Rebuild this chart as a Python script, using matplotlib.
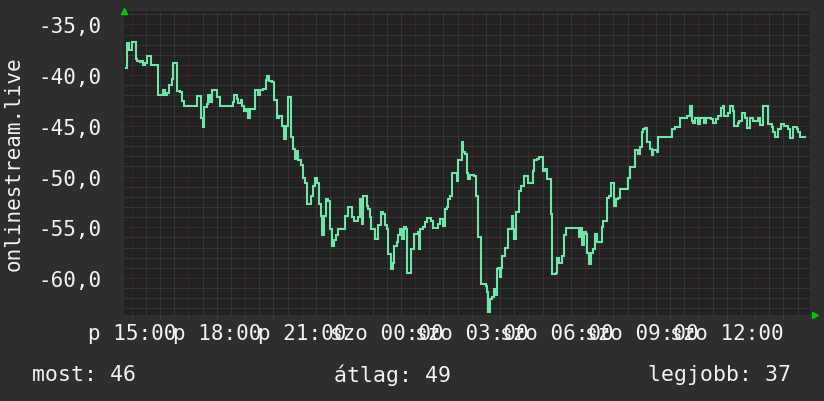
import matplotlib

matplotlib.use("Agg")
import matplotlib.pyplot as plt
import numpy as np
from matplotlib.ticker import FixedLocator, MultipleLocator

# hours after fri 15:00, signal level (step series)
hours = [
    -0.20, -0.18, -0.095, 0.02, 0.15, 0.20, 0.29, 0.35, 0.41, 0.47, 0.55, 0.68,
    0.92, 0.98, 1.09, 1.18, 1.23, 1.33, 1.41, 1.47, 1.61, 1.70, 1.76, 1.85,
    2.32, 2.43, 2.50, 2.56, 2.65, 2.70, 2.76, 2.85, 3.00, 3.12, 3.56, 3.62,
    3.70, 3.76, 3.85, 3.90, 3.98, 4.03, 4.09, 4.17, 4.35, 4.45, 4.53, 4.65,
    4.74, 4.79, 4.86, 4.94, 5.03, 5.12, 5.21, 5.29, 5.38, 5.45, 5.51, 5.62,
    5.71, 5.76, 5.82, 5.88, 5.96, 6.04, 6.12, 6.18, 6.33, 6.41, 6.47, 6.53,
    6.61, 6.68, 6.73, 6.80, 6.85, 6.92, 7.00, 7.06, 7.14, 7.21, 7.27, 7.53,
    7.62, 7.76, 7.85, 8.00, 8.06, 8.12, 8.18, 8.29, 8.35, 8.41, 8.45, 8.59,
    8.71, 8.79, 8.88, 8.94, 9.00, 9.04, 9.15, 9.21, 9.27, 9.35, 9.41, 9.47,
    9.53, 9.62, 9.68, 9.73, 9.85, 9.96, 10.09, 10.14, 10.17, 10.27, 10.35, 10.41,
    10.56, 10.62, 10.82, 10.88, 10.99, 11.04, 11.12, 11.18, 11.24, 11.29, 11.47, 11.53,
    11.65, 11.71, 11.77, 11.82, 11.88, 11.94, 12.09, 12.15, 12.21, 12.33, 12.49, 12.53,
    12.56, 12.65, 12.71, 12.77, 12.82, 12.88, 12.94, 13.00, 13.04, 13.08, 13.18, 13.29,
    13.41, 13.45, 13.50, 13.55, 13.67, 13.73, 13.85, 14.00, 14.15, 14.21, 14.29, 14.38,
    14.53, 14.59, 14.65, 14.79, 14.82, 14.97, 15.02, 15.08, 15.20, 15.25, 15.32, 15.71,
    15.77, 15.86, 15.91, 15.97, 16.04, 16.08, 16.15, 16.21, 16.27, 16.35, 16.41, 16.59,
    16.65, 16.77, 16.86, 16.91, 17.02, 17.08, 17.18, 17.24, 17.53, 17.59, 17.77, 17.88,
    17.94, 18.00, 18.06, 18.12, 18.18, 18.30, 18.35, 18.41, 18.53, 18.59, 19.06, 19.18,
    19.35, 19.59, 19.71, 19.77, 19.82, 19.88, 20.00, 20.06, 20.20, 20.27, 20.44, 20.50,
    20.63, 20.71, 20.79, 20.86, 20.92, 21.04, 21.10, 21.21, 21.27, 21.39, 21.45, 21.53,
    21.63, 21.73, 21.83, 21.94, 22.11, 22.18, 22.27, 22.47, 22.59, 22.65, 22.71, 22.82,
    22.91, 23.02, 23.18, 23.24, 23.33, 23.47, 23.53, 23.59, 23.77,
]
values = [
    -39.3, -36.8, -37.5, -36.7, -38.4, -38.6, -38.7, -38.6, -39.0, -38.8, -38.1, -39.0,
    -42.0, -42.0, -41.5, -42.0, -41.8, -41.0, -40.4, -38.8, -41.6, -41.7, -42.5, -43.0,
    -42.1, -44.2, -45.1, -43.1, -42.8, -42.0, -42.6, -41.5, -42.2, -43.0, -42.6, -42.0,
    -42.3, -42.7, -42.4, -43.0, -43.5, -43.3, -44.2, -43.3, -41.5, -42.0, -41.5, -41.4,
    -40.5, -40.1, -40.6, -40.7, -42.4, -44.2, -44.0, -45.0, -46.3, -45.0, -42.2, -46.1,
    -47.3, -48.3, -47.5, -48.4, -48.9, -50.1, -50.6, -52.7, -51.9, -50.9, -50.1, -50.6,
    -52.7, -53.9, -55.8, -53.9, -52.2, -52.4, -55.2, -56.8, -56.3, -55.8, -55.2, -53.9,
    -53.0, -54.0, -54.4, -54.0, -52.2, -54.7, -51.9, -52.9, -53.2, -54.0, -55.2, -56.2,
    -54.8, -53.5, -53.7, -54.8, -55.2, -57.6, -59.1, -58.5, -56.8, -56.5, -55.8, -55.2,
    -56.2, -55.0, -55.2, -59.5, -57.1, -55.7, -55.5, -57.1, -55.2, -55.0, -54.5, -54.1,
    -54.4, -55.1, -54.7, -54.2, -54.9, -53.2, -53.0, -52.2, -51.9, -49.6, -50.4, -48.4,
    -46.6, -47.6, -47.8, -49.6, -50.2, -49.8, -49.9, -51.9, -56.0, -60.6, -60.8, -61.4,
    -63.4, -62.1, -61.9, -61.1, -61.7, -59.1, -59.0, -59.9, -59.0, -57.8, -57.0, -55.2,
    -53.9, -55.2, -56.2, -53.5, -51.4, -50.9, -49.9, -50.6, -49.4, -48.4, -48.3, -48.1,
    -49.4, -49.3, -50.2, -53.7, -59.6, -59.5, -58.0, -58.5, -57.8, -55.8, -55.1, -55.1,
    -56.0, -55.1, -56.7, -55.5, -55.7, -57.5, -58.6, -57.5, -57.1, -55.7, -56.5, -55.0,
    -54.4, -52.1, -51.9, -50.6, -52.9, -52.2, -52.1, -51.2, -50.1, -49.1, -47.4, -47.8,
    -47.1, -45.6, -45.3, -45.2, -46.6, -47.3, -47.9, -47.4, -47.6, -46.1, -45.3, -45.1,
    -44.2, -44.0, -43.0, -44.5, -44.7, -44.2, -44.8, -44.2, -44.7, -44.2, -44.3, -44.7,
    -44.3, -44.0, -43.2, -43.0, -44.0, -43.7, -43.0, -43.5, -45.0, -44.7, -44.5, -43.7,
    -44.2, -45.2, -44.2, -44.5, -44.2, -44.9, -43.0, -44.8, -45.1, -45.6, -46.1, -45.3,
    -44.8, -45.0, -45.3, -46.2, -45.1, -45.3, -45.6, -46.1, -46.1,
]

y_ticks = [-60, -55, -50, -45, -40, -35]
y_tick_labels = ["-60,0", "-55,0", "-50,0", "-45,0", "-40,0", "-35,0"]
x_ticks = [0, 3, 6, 9, 12, 15, 18, 21]
x_tick_labels = ["p 15:00", "p 18:00", "p 21:00", "szo 00:00",
                 "szo 03:00", "szo 06:00", "szo 09:00", "szo 12:00"]
y_title = "onlinestream.live"
summary = ["most: 46", "átlag: 49", "legjobb: 37"]

BG = "#2e2e2e"
PLOT_BG = "#222222"
MINOR = "#474747"
MAJOR = "#5e2828"
LINE = "#6ee6aa"
TEXT = "#f2f2f2"
ARROW = "#00c800"

W, H = 824, 402
x0, x1, y0, y1 = 124, 810, 12, 316

plt.rcParams["font.family"] = ["DejaVu Sans Mono"]

fig = plt.figure(figsize=(W / 100, H / 100), dpi=100, facecolor=BG)
ax = fig.add_axes([x0 / W, 1 - y1 / H, (x1 - x0) / W, (y1 - y0) / H])
ax.set_facecolor(PLOT_BG)
ax.set_xlim(-0.272, 23.94)
ax.set_ylim(-63.65, -33.67)

dot = (0, (1, 1))
for t in np.arange(-0.0, 24.0, 0.5):
    major = t % 2 == 0
    ax.axvline(t, color=MAJOR if major else MINOR, lw=0.72, ls=dot, zorder=1)
for v in range(-63, -33):
    major = v % 5 == 0
    ax.axhline(v, color=MAJOR if major else MINOR, lw=0.72, ls=dot, zorder=1)

ax.plot(hours, values, drawstyle="steps-post", color=LINE, lw=1.5,
        solid_joinstyle="miter", zorder=3)

for s in ax.spines.values():
    s.set_visible(False)

ax.xaxis.set_major_locator(FixedLocator(x_ticks))
ax.set_xticklabels(x_tick_labels)
ax.xaxis.set_minor_locator(MultipleLocator(1))
ax.tick_params(axis="x", which="both", length=3, width=0.8, color="#553232",
               pad=3, labelsize=15, labelcolor=TEXT)
ax.set_yticks(y_ticks)
ax.set_yticklabels(y_tick_labels)
ax.tick_params(axis="y", length=0, pad=16, labelsize=15, labelcolor=TEXT)

# rrdtool-style axis arrows
ax.plot([0], [1.0], marker="^", ms=5, color=ARROW, transform=ax.transAxes,
        clip_on=False, zorder=5)
ax.plot([1.008], [0.0], marker=">", ms=5, color=ARROW, transform=ax.transAxes,
        clip_on=False, zorder=5)

fig.text(14 / W, 1 - 164 / H, y_title, rotation=90, ha="center", va="center",
         fontsize=15, color=TEXT)
fig.text(32 / W, 1 - 375 / H, summary[0], ha="left", va="center",
         fontsize=15.5, color=TEXT)
fig.text(392 / W, 1 - 375 / H, summary[1], ha="center", va="center",
         fontsize=15.5, color=TEXT)
fig.text(791 / W, 1 - 375 / H, summary[2], ha="right", va="center",
         fontsize=15.5, color=TEXT)

fig.savefig("out.png", dpi=100, facecolor=BG)
